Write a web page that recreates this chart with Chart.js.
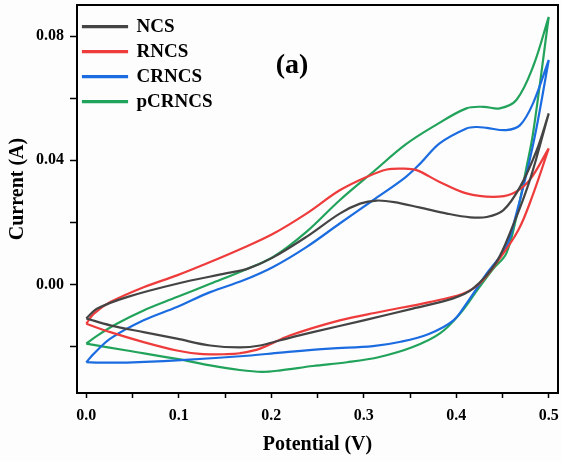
<!DOCTYPE html>
<html>
<head>
<meta charset="utf-8">
<script src="https://cdn.jsdelivr.net/npm/chart.js@4.4.1/dist/chart.umd.min.js"></script>
<style>
  html, body { margin: 0; padding: 0; background: #fdfdfd; }
</style>
</head>
<body>
<canvas id="cvChart" width="561" height="461"></canvas>
<script>
const seriesNames = ["NCS", "RNCS", "CRNCS", "pCRNCS"];
const seriesColors = ["#444444", "#ee3b3b", "#1b6ce0", "#22a35b"];

// forward scan, 0 -> 0.5 V
const ncsFwdV = [0, 0.012, 0.044, 0.098, 0.152, 0.174, 0.202, 0.238, 0.274, 0.296, 0.314, 0.333, 0.36, 0.39, 0.415, 0.433, 0.451, 0.469, 0.487, 0.5];
const ncsFwdI = [-0.011, -0.0078, -0.0041, 0.0002, 0.0036, 0.005, 0.0087, 0.0153, 0.0228, 0.026, 0.027, 0.0265, 0.0248, 0.0228, 0.0216, 0.0217, 0.0239, 0.0314, 0.0432, 0.0551];
const rncsFwdV = [0, 0.008, 0.026, 0.062, 0.098, 0.134, 0.17, 0.202, 0.238, 0.274, 0.303, 0.325, 0.342, 0.357, 0.382, 0.411, 0.44, 0.461, 0.479, 0.5];
const rncsFwdI = [-0.0127, -0.0095, -0.0057, -0.0009, 0.0029, 0.0072, 0.0118, 0.0163, 0.0228, 0.0303, 0.0346, 0.037, 0.0373, 0.0368, 0.033, 0.0293, 0.0282, 0.0293, 0.0335, 0.0438];
const crncsFwdV = [0, 0.008, 0.026, 0.062, 0.098, 0.134, 0.17, 0.202, 0.238, 0.274, 0.31, 0.345, 0.361, 0.382, 0.411, 0.422, 0.433, 0.454, 0.469, 0.483, 0.5];
const crncsFwdI = [-0.0251, -0.0224, -0.0175, -0.0116, -0.0073, -0.0025, 0.0013, 0.0056, 0.012, 0.0196, 0.0271, 0.0345, 0.0389, 0.0454, 0.0502, 0.0507, 0.0504, 0.0497, 0.0513, 0.0583, 0.0723];
const pcrncsFwdV = [0, 0.012, 0.033, 0.062, 0.098, 0.134, 0.17, 0.202, 0.238, 0.274, 0.31, 0.345, 0.375, 0.411, 0.43, 0.447, 0.465, 0.483, 0.5];
const pcrncsFwdI = [-0.0191, -0.0165, -0.0127, -0.0084, -0.0041, 0.0002, 0.0045, 0.0088, 0.0169, 0.0271, 0.0362, 0.045, 0.0508, 0.0567, 0.0572, 0.0567, 0.0594, 0.0701, 0.0862];

// reverse scan, 0.5 -> 0 V
const ncsRevV = [0.5, 0.48, 0.46, 0.443, 0.418, 0.396, 0.353, 0.3, 0.245, 0.21, 0.188, 0.166, 0.134, 0.098, 0.062, 0.026, 0];
const ncsRevI = [0.0551, 0.034, 0.018, 0.007, -0.0014, -0.0046, -0.0078, -0.0116, -0.0154, -0.018, -0.0197, -0.0203, -0.0197, -0.0175, -0.0154, -0.0132, -0.011];
const rncsRevV = [0.5, 0.483, 0.467, 0.443, 0.425, 0.407, 0.371, 0.317, 0.274, 0.22, 0.188, 0.166, 0.152, 0.123, 0.098, 0.062, 0.026, 0];
const rncsRevI = [0.0438, 0.029, 0.0174, 0.0067, 0.0002, -0.003, -0.0057, -0.0089, -0.0116, -0.0165, -0.0207, -0.0222, -0.0225, -0.0224, -0.0213, -0.0186, -0.0154, -0.0127];
const crncsRevV = [0.5, 0.487, 0.476, 0.465, 0.454, 0.433, 0.411, 0.397, 0.371, 0.34, 0.31, 0.263, 0.21, 0.174, 0.098, 0.044, 0.015, 0];
const crncsRevI = [0.0723, 0.0508, 0.0357, 0.0228, 0.012, 0.0035, -0.0062, -0.0116, -0.0159, -0.0185, -0.0199, -0.0207, -0.022, -0.023, -0.0245, -0.0252, -0.0252, -0.0251];
const pcrncsRevV = [0.5, 0.483, 0.476, 0.465, 0.454, 0.44, 0.425, 0.404, 0.382, 0.353, 0.317, 0.282, 0.245, 0.21, 0.19, 0.166, 0.134, 0.098, 0.044, 0];
const pcrncsRevI = [0.0862, 0.0486, 0.0378, 0.0217, 0.0099, 0.005, -0.0009, -0.0095, -0.0159, -0.0202, -0.0234, -0.0251, -0.0263, -0.0277, -0.0282, -0.0276, -0.0261, -0.024, -0.0213, -0.0191];

const fwdV = [ncsFwdV, rncsFwdV, crncsFwdV, pcrncsFwdV];
const fwdI = [ncsFwdI, rncsFwdI, crncsFwdI, pcrncsFwdI];
const revV = [ncsRevV, rncsRevV, crncsRevV, pcrncsRevV];
const revI = [ncsRevI, rncsRevI, crncsRevI, pcrncsRevI];

// one loop per sample, with a gap at the vertex so the turn stays sharp
function buildLoop(k) {
  const pts = fwdV[k].map((v, i) => ({x: v, y: fwdI[k][i]}));
  pts.push({x: 0.5, y: null});
  revV[k].forEach((v, i) => pts.push({x: v, y: revI[k][i]}));
  return pts;
}

const serif = "'Liberation Serif', 'Times New Roman', serif";
Chart.defaults.font.family = serif;
Chart.defaults.color = "#000";

const framePlugin = {
  id: "frame",
  afterDraw(chart) {
    const {ctx, chartArea} = chart;
    ctx.save();
    ctx.strokeStyle = "#000";
    ctx.lineWidth = 2;
    ctx.strokeRect(chartArea.left, chartArea.top, chartArea.right - chartArea.left, chartArea.bottom - chartArea.top);
    ctx.fillStyle = "#000";
    ctx.textAlign = "center";
    ctx.textBaseline = "middle";
    ctx.font = "bold 28px " + serif;
    ctx.fillText("(a)", 292, 66);
    // y title sits a little above the centre of the axis
    ctx.translate(18, 189);
    ctx.rotate(-Math.PI / 2);
    ctx.font = "bold 20px " + serif;
    ctx.fillText("Current (A)", 0, 0);
    ctx.restore();
  }
};

const ctx = document.getElementById("cvChart").getContext("2d");
const chart = new Chart(ctx, {
  type: "scatter",
  data: {
    datasets: seriesNames.map((name, k) => ({
      label: name,
      data: buildLoop(k),
      showLine: true,
      borderColor: seriesColors[k],
      backgroundColor: seriesColors[k],
      borderWidth: 2.2,
      pointRadius: 0,
      tension: 0.35
    }))
  },
  options: {
    responsive: false,
    animation: false,
    devicePixelRatio: 1,
    layout: {padding: {top: 5, right: 3, left: 0, bottom: 0}},
    scales: {
      x: {
        type: "linear",
        min: -0.01,
        max: 0.51,
        afterFit: (s) => { s.height = 68; s.paddingLeft = 0; s.paddingRight = 0; },
        border: {display: true, color: "#000", width: 2},
        grid: {drawOnChartArea: false, drawTicks: true, tickLength: 5, tickColor: "#000", tickWidth: 1.5},
        ticks: {
          stepSize: 0.05,
          includeBounds: false,
          autoSkip: false,
          maxRotation: 0,
          padding: 8,
          font: {size: 16, weight: "bold"},
          callback: (value) => Math.round(value * 100) % 10 === 0 ? value.toFixed(1) : ""
        },
        title: {display: true, text: "Potential (V)", font: {size: 20, weight: "bold"}, padding: {top: 0, bottom: 4}}
      },
      y: {
        type: "linear",
        min: -0.035,
        max: 0.09,
        afterFit: (s) => { s.width = 77; s.paddingTop = 0; s.paddingBottom = 0; },
        border: {display: true, color: "#000", width: 2},
        grid: {drawOnChartArea: false, drawTicks: true, tickLength: 7, tickColor: "#000", tickWidth: 1.5},
        ticks: {
          stepSize: 0.02,
          includeBounds: false,
          autoSkip: false,
          padding: 6,
          font: {size: 16, weight: "bold"},
          callback: (value) => Math.round(value * 100) % 4 === 0 ? value.toFixed(2) : ""
        },
        title: {display: false}
      }
    },
    plugins: {
      legend: {
        position: "chartArea",
        align: "start",
        // empty title only pushes the entries down from the frame
        title: {display: true, text: "", font: {size: 1}, padding: {top: 0, bottom: 10}},
        labels: {
          boxWidth: 44,
          boxHeight: 1,
          padding: 6,
          color: "#000",
          font: {size: 19, weight: "bold"}
        }
      },
      tooltip: {enabled: false}
    }
  },
  plugins: [framePlugin]
});
</script>
</body>
</html>
